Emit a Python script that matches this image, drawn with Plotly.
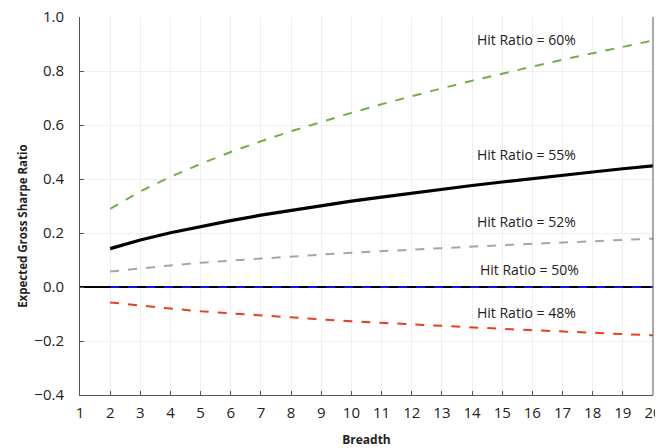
import plotly.graph_objects as go

breadth = list(range(2, 21))
sr_60 = [0.289, 0.354, 0.408, 0.456, 0.500, 0.540, 0.577, 0.612, 0.645, 0.677,
         0.707, 0.736, 0.764, 0.791, 0.816, 0.842, 0.866, 0.890, 0.913]
sr_55 = [0.142, 0.174, 0.201, 0.225, 0.246, 0.266, 0.284, 0.302, 0.318, 0.333,
         0.348, 0.362, 0.376, 0.389, 0.402, 0.414, 0.426, 0.438, 0.449]
sr_52 = [0.057, 0.069, 0.080, 0.090, 0.098, 0.106, 0.113, 0.120, 0.127, 0.133,
         0.139, 0.144, 0.150, 0.155, 0.160, 0.165, 0.170, 0.174, 0.179]
sr_50 = [0.0] * 19
sr_48 = [-0.057, -0.069, -0.080, -0.090, -0.098, -0.106, -0.113, -0.120, -0.127, -0.133,
         -0.139, -0.144, -0.150, -0.155, -0.160, -0.165, -0.170, -0.174, -0.179]

labels = ["Hit Ratio = 60%", "Hit Ratio = 55%", "Hit Ratio = 52%", "Hit Ratio = 50%", "Hit Ratio = 48%"]
label_x = [15.8, 15.8, 15.8, 15.9, 15.8]
label_y = [0.915, 0.489, 0.244, 0.063, -0.096]

FONT = "Open Sans, sans-serif"

fig = go.Figure()
series = [
    (sr_60, "#77AC48", 2, "dash"),
    (sr_52, "#A6A6A6", 2, "dash"),
    (sr_48, "#E8401C", 2, "dash"),
    (sr_55, "#000000", 3.2, "solid"),
    (sr_50, "#1010F0", 2, "dash"),
]
for ys, color, w, dash in series:
    fig.add_trace(go.Scatter(x=breadth, y=ys, mode="lines",
                             line=dict(color=color, width=w, dash=dash),
                             showlegend=False, hoverinfo="skip"))

for t, x, y in zip(labels, label_x, label_y):
    fig.add_annotation(x=x, y=y, text=t, showarrow=False,
                       font=dict(family="Open Sans, sans-serif", size=14, color="#222"))

# y-axis title (placed as annotation to match reference position)
fig.add_annotation(xref="paper", yref="paper", x=-0.1015, y=0.447, xanchor="center", yanchor="middle",
                   text="<b>Expected Gross Sharpe Ratio</b>", textangle=-90, showarrow=False,
                   font=dict(family="Open Sans, sans-serif", size=11.5, color="#222"))

fig.update_layout(
    width=655, height=440,
    margin=dict(l=72, r=10, t=9, b=53),
    plot_bgcolor="white", paper_bgcolor="white",
    font=dict(family=FONT, size=15, color="#222"),
)
fig.update_xaxes(range=[1, 20], tickmode="linear", tick0=1, dtick=1,
                 automargin=False, ticklabeloverflow="allow",
                 showgrid=True, gridcolor="#EFEFEF", gridwidth=1,
                 showline=True, linecolor="#555", linewidth=1, mirror=False,
                 ticks="inside", ticklen=4, tickcolor="#555",
                 zeroline=False,
                 title=dict(text="<b>Breadth</b>", font=dict(family="Open Sans, sans-serif", size=12), standoff=14),
                 ticklabelstandoff=4)
fig.update_yaxes(range=[-0.4, 1.0], tickmode="linear", tick0=-0.4, dtick=0.2,
                 tickformat=".1f", automargin=False, ticklabeloverflow="allow",
                 showgrid=True, gridcolor="#EFEFEF", gridwidth=1,
                 showline=True, linecolor="#555", linewidth=1,
                 ticks="inside", ticklen=4, tickcolor="#555",
                 zeroline=True, zerolinecolor="#000", zerolinewidth=1.5,
                 ticklabelstandoff=12)
fig.add_shape(type="line", xref="paper", yref="paper", x0=1, x1=1, y0=0, y1=1,
              line=dict(color="#555", width=1))

fig.write_html("out.html")
